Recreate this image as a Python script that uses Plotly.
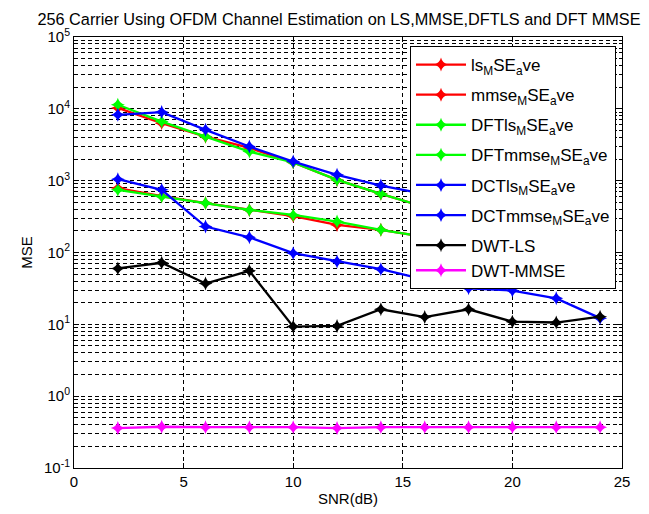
import plotly.graph_objects as go

snr = [2, 4, 6, 8, 10, 12, 14, 16, 18, 20, 22, 24]

ls_mse = [10300, 6300, 4100, 2860, 1790, 1025, 655, 430, 300, 215, 160, 120]
mmse_mse = [790, 610, 487, 392, 320, 242, 207, 165, 135, 110, 90, 75]
dftls_mse = [11400, 6650, 4110, 2540, 1790, 1025, 655, 430, 300, 215, 160, 120]
dftmmse_mse = [745, 600, 487, 392, 334, 270, 207, 165, 135, 110, 90, 75]
dctls_mse = [8240, 9000, 5100, 2990, 1845, 1205, 855, 650, 500, 400, 320, 260]
dctmmse_mse = [1050, 745, 230, 163, 98, 75, 58.5, 42, 31.8, 29.5, 23, 12.2]
dwtls_mse = [60, 72, 37, 55.5, 9.3, 9.5, 16.2, 12.6, 16.2, 10.9, 10.6, 12.8]
dwtmmse_mse = [0.36, 0.375, 0.37, 0.37, 0.37, 0.36, 0.37, 0.37, 0.37, 0.37, 0.37, 0.37]

names = [
    "ls<sub>M</sub>SE<sub>a</sub>ve",
    "mmse<sub>M</sub>SE<sub>a</sub>ve",
    "DFTls<sub>M</sub>SE<sub>a</sub>ve",
    "DFTmmse<sub>M</sub>SE<sub>a</sub>ve",
    "DCTls<sub>M</sub>SE<sub>a</sub>ve",
    "DCTmmse<sub>M</sub>SE<sub>a</sub>ve",
    "DWT-LS",
    "DWT-MMSE",
]
series = [ls_mse, mmse_mse, dftls_mse, dftmmse_mse, dctls_mse, dctmmse_mse, dwtls_mse, dwtmmse_mse]
colors = ["#FF0000", "#FF0000", "#00FF00", "#00FF00", "#0000FF", "#0000FF", "#000000", "#FF00FF"]
groups = ["g1", "g2", "g3", "g4", "g5", "g6", "g7", "g7"]

ytick_vals = [0.1, 1, 10, 100, 1000, 10000, 100000]
ytick_text = ["10<sup>-1</sup>", "10<sup>0</sup>", "10<sup>1</sup>", "10<sup>2</sup>",
              "10<sup>3</sup>", "10<sup>4</sup>", "10<sup>5</sup>"]
yminor_vals = [m * 10 ** e for e in range(-1, 5) for m in range(2, 10)]

FONT = "Liberation Sans, Arial, sans-serif"
W, H = 649, 514
OFF = 8  # default page body margin

fig = go.Figure()
for name, ys, c, g in zip(names, series, colors, groups):
    fig.add_trace(go.Scatter(
        x=snr, y=ys, name=name, mode="lines+markers", legendgroup=g,
        line=dict(color=c, width=2.3),
        marker=dict(symbol="star-diamond", size=10, color=c, line=dict(width=0)),
    ))

grid_dash = "4px,3px"
fig.update_layout(
    width=W, height=H,
    margin=dict(l=74 - OFF, r=27 + OFF, t=37 - OFF, b=46 + OFF),
    paper_bgcolor="white", plot_bgcolor="white",
    font=dict(family=FONT, size=15, color="black"),
    title=dict(text="256 Carrier Using OFDM Channel Estimation on LS,MMSE,DFTLS and DFT MMSE",
               x=(339 - OFF) / W, xanchor="center", xref="container",
               y=1 - (19 - OFF) / H, yanchor="middle", yref="container",
               font=dict(size=16.3, family=FONT, color="black")),
    showlegend=True,
    legend=dict(x=(410 - 74) / 548, y=(468 - 46) / 431, xanchor="left", yanchor="top",
                bgcolor="white", bordercolor="black", borderwidth=1,
                itemwidth=50, tracegroupgap=5,
                font=dict(size=17, family=FONT, color="black")),
    xaxis=dict(range=[0, 25], dtick=5, tick0=0, showline=True, linecolor="black", linewidth=1,
               mirror="allticks", ticks="inside", ticklen=5, tickcolor="black",
               showgrid=True, gridcolor="black", griddash=grid_dash, gridwidth=1,
               zeroline=False, tickfont=dict(size=15), automargin=False,
               title=dict(text="SNR(dB)", font=dict(size=15), standoff=4)),
    yaxis=dict(type="log", range=[-1, 5], tickmode="array", tickvals=ytick_vals, ticktext=ytick_text,
               showline=True, linecolor="black", linewidth=1,
               mirror="allticks", ticks="inside", ticklen=5, tickcolor="black",
               showgrid=True, gridcolor="black", griddash=grid_dash, gridwidth=1,
               zeroline=False, tickfont=dict(size=15), automargin=False,
               minor=dict(tickmode="array", tickvals=yminor_vals, ticks="inside", ticklen=3,
                          tickcolor="black", showgrid=True, gridcolor="black",
                          griddash=grid_dash, gridwidth=1),
               title=dict(text="MSE", font=dict(size=15), standoff=7)),
)

fig.write_html("out.html")
